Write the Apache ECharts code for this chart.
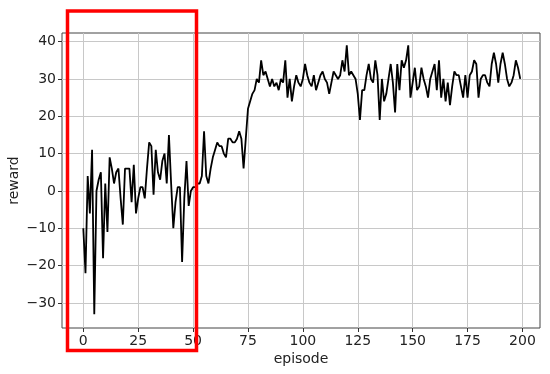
<!DOCTYPE html>
<html>
<head>
<meta charset="utf-8">
<script src="https://cdn.jsdelivr.net/npm/echarts@6/dist/echarts.min.js"></script>
<style>
  html, body { margin: 0; padding: 0; background: #fff; }
  #chart { width: 550px; height: 374px; }
</style>
</head>
<body>
<div id="chart"></div>
<script>
// reward per episode
var rewards = [
  -10, -22, 4, -6, 11, -33, 0, 3, 5, -18,
  2, -11, 9, 6, 2, 5, 6, -2, -9, 6,
  6, 6, -3, 7, -6, -2, 1, 1, -2, 6,
  13, 12, -1, 11, 5, 3, 8, 10, 2, 15,
  2, -10, -3, 1, 1, -19, -2, 8, -4, 0,
  1, 1, 2, 2, 4, 16, 4, 2, 6, 9,
  11, 13, 12, 12, 10, 9, 14, 14, 13, 13,
  14, 16, 14, 6, 14, 22, 24, 26, 27, 30,
  29, 35, 31, 32, 30, 28, 30, 28, 29, 27,
  30, 29, 35, 25, 30, 24, 28, 31, 29, 28,
  30, 34, 31, 29, 28, 31, 27, 29, 31, 32,
  30, 29, 26, 29, 32, 31, 30, 31, 35, 32,
  39, 31, 32, 31, 30, 26, 19, 27, 27, 31,
  34, 30, 29, 35, 31, 19, 30, 24, 26, 30,
  34, 29, 21, 34, 27, 35, 33, 35, 39, 25,
  29, 33, 27, 28, 33, 30, 28, 25, 30, 32,
  34, 27, 35, 25, 30, 24, 29, 23, 28, 32,
  31, 31, 28, 25, 31, 25, 31, 32, 35, 34,
  25, 30, 31, 31, 29, 28, 34, 37, 34, 29,
  34, 37, 34, 30, 28, 29, 31, 35, 33, 30
];
var xTicks = [0, 25, 50, 75, 100, 125, 150, 175, 200];
var yTicks = [-30, -20, -10, 0, 10, 20, 30, 40];

var seriesData = rewards.map(function (v, i) { return [i, v]; });

var font = 'DejaVu Sans';
function minus(v) { return String(v).replace('-', '\u2212'); }

var myChart = echarts.init(document.getElementById('chart'));
myChart.setOption({
  animation: false,
  grid: {
    left: 62, right: 10, top: 33, bottom: 46,
    outerBoundsMode: 'none',
    containLabel: false,
    show: true, borderColor: '#444', borderWidth: 1
  },
  xAxis: {
    type: 'value',
    min: -9.7, max: 208,
    name: 'episode', nameLocation: 'middle', nameGap: 24, nameMoveOverlap: false,
    nameTextStyle: { fontFamily: font, fontSize: 14, color: '#222' },
    axisLine: { show: false, onZero: false },
    axisTick: { show: true, inside: false, length: 4, customValues: xTicks, lineStyle: { color: '#333' } },
    axisLabel: { customValues: xTicks, margin: 6, fontFamily: font, fontSize: 14, color: '#222', formatter: minus },
    splitLine: { show: true, lineStyle: { color: '#c8c8c8', width: 1 } }
  },
  yAxis: {
    type: 'value',
    min: -36.7, max: 42.3,
    name: 'reward', nameLocation: 'middle', nameGap: 41, nameRotate: 90, nameMoveOverlap: false,
    nameTextStyle: { fontFamily: font, fontSize: 14, color: '#222' },
    axisLine: { show: false, onZero: false },
    axisTick: { show: true, inside: false, length: 4, customValues: yTicks, lineStyle: { color: '#333' } },
    axisLabel: { customValues: yTicks, margin: 6, fontFamily: font, fontSize: 14, color: '#222', formatter: minus },
    splitLine: { show: true, lineStyle: { color: '#c8c8c8', width: 1 } }
  },
  series: [{
    type: 'line',
    data: seriesData,
    showSymbol: false,
    lineStyle: { color: '#000', width: 1.8 },
    z: 3
  }],
  graphic: [{
    type: 'rect',
    z: 100,
    shape: { x: 67.5, y: 11, width: 129, height: 339.5 },
    style: { fill: 'none', stroke: '#ff0000', lineWidth: 3.5 }
  }]
});
</script>
</body>
</html>
